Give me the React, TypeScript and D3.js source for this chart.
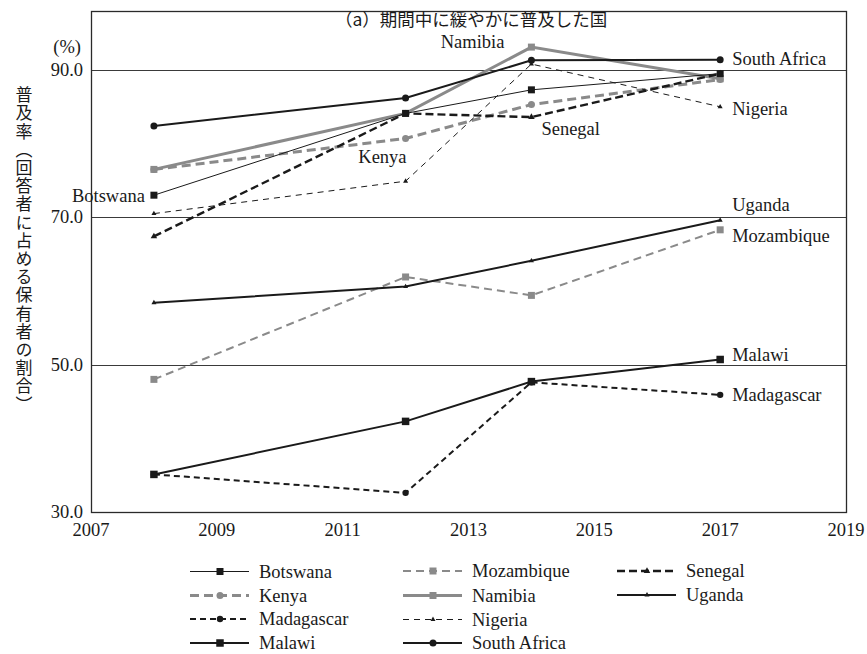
import React from 'react';
import * as d3 from 'd3';

// Survey years and ownership rates (% of respondents)
const years = [2008, 2012, 2014, 2017];
const botswana = [73.0, 84.1, 87.3, 89.5];
const kenya = [76.5, 80.7, 85.3, 88.7];
const madagascar = [35.1, 32.6, 47.6, 45.9];
const malawi = [35.1, 42.3, 47.7, 50.7];
const mozambique = [48.0, 61.9, 59.4, 68.3];
const namibia = [76.5, 84.1, 93.1, 88.8];
const nigeria = [70.5, 74.9, 90.8, 85.0];
const senegal = [67.4, 84.1, 83.6, 89.5];
const southAfrica = [82.4, 86.2, 91.3, 91.4];
const uganda = [58.4, 60.6, 64.1, 69.6];

const xTicks = [2007, 2009, 2011, 2013, 2015, 2017, 2019];
const yTicks = [30, 50, 70, 90];
const gridValues = [50, 70, 90];

const title = '（a）期間中に緩やかに普及した国';
// vertical presentation forms for the brackets in the upright axis title
const yTitle = '普及率︵回答者に占める保有者の割合︶';

const W = 867;
const H = 654;
const M = { left: 91, right: 21, top: 11, bottom: 142 };

const BLACK = '#1a1a1a';
const GREY = '#8a8a8a';
const SERIF = '"Liberation Serif", "Times New Roman", serif';
const CJK = '"Noto Sans CJK JP", sans-serif';
const FS = 18.5;

type Sym = 'square' | 'circle' | 'triangle';
interface Series {
  name: string;
  values: number[];
  color: string;
  width: number;
  dash?: string;
  symbol: Sym;
  size: number;
  // label placement relative to a chosen point
  labelAt: number;
  dx: number;
  dy: number;
  anchor: 'start' | 'middle' | 'end';
}

const series: Series[] = [
  { name: 'Mozambique', values: mozambique, color: GREY, width: 2, dash: '8,5', symbol: 'square', size: 7, labelAt: 3, dx: 12, dy: 12, anchor: 'start' },
  { name: 'Kenya', values: kenya, color: GREY, width: 3, dash: '9,5', symbol: 'circle', size: 3.5, labelAt: 1, dx: 1, dy: 25, anchor: 'end' },
  { name: 'Namibia', values: namibia, color: GREY, width: 3, symbol: 'square', size: 7, labelAt: 2, dx: -27, dy: 1, anchor: 'end' },
  { name: 'Nigeria', values: nigeria, color: BLACK, width: 1, dash: '6,5', symbol: 'triangle', size: 5, labelAt: 3, dx: 12, dy: 8, anchor: 'start' },
  { name: 'Botswana', values: botswana, color: BLACK, width: 1, symbol: 'square', size: 7, labelAt: 0, dx: -9, dy: 7, anchor: 'end' },
  { name: 'Senegal', values: senegal, color: BLACK, width: 2.4, dash: '8,4', symbol: 'triangle', size: 6.5, labelAt: 2, dx: 10, dy: 18, anchor: 'start' },
  { name: 'Uganda', values: uganda, color: BLACK, width: 2, symbol: 'triangle', size: 5, labelAt: 3, dx: 12, dy: -9, anchor: 'start' },
  { name: 'Madagascar', values: madagascar, color: BLACK, width: 2, dash: '6,4', symbol: 'circle', size: 3.2, labelAt: 3, dx: 12, dy: 6, anchor: 'start' },
  { name: 'Malawi', values: malawi, color: BLACK, width: 2, symbol: 'square', size: 7.5, labelAt: 3, dx: 12, dy: 2, anchor: 'start' },
  { name: 'South Africa', values: southAfrica, color: BLACK, width: 2, symbol: 'circle', size: 3.5, labelAt: 3, dx: 12, dy: 5, anchor: 'start' },
];

// legend layout: column-major, four rows per column
const legendOrder = ['Botswana', 'Kenya', 'Madagascar', 'Malawi', 'Mozambique', 'Namibia', 'Nigeria', 'South Africa', 'Senegal', 'Uganda'];

function symbolPath(sym: Sym, size: number): string {
  if (sym === 'square') return d3.symbol(d3.symbolSquare, size * size)() as string;
  if (sym === 'circle') return d3.symbol(d3.symbolCircle, Math.PI * size * size)() as string;
  return d3.symbol(d3.symbolTriangle, (Math.sqrt(3) / 4) * size * size)() as string;
}

export default function App() {
  const x = d3.scaleLinear().domain([2007, 2019]).range([M.left, W - M.right]);
  const y = d3.scaleLinear().domain([30, 98]).range([H - M.bottom, M.top]);
  const line = d3
    .line<number>()
    .x((_, i) => x(years[i]))
    .y((v) => y(v));

  const x0 = x.range()[0];
  const x1 = x.range()[1];
  const yb = y.range()[0];
  const yt = y.range()[1];
  // snap hairlines to the pixel grid
  const crisp = (v: number) => Math.round(v) + 0.5;

  const legendX = d3.scaleOrdinal<number, number>().domain([0, 1, 2]).range([190, 403, 617]);
  const legendY = d3.scaleLinear().domain([0, 1]).range([570.5, 594.8]);

  return (
    <svg
      width={W}
      height={H}
      style={{ position: 'absolute', left: 0, top: 0, background: '#fff' }}
      xmlns="http://www.w3.org/2000/svg"
    >
      <rect x={0} y={0} width={W} height={H} fill="#fff" />

      {/* gridlines */}
      {gridValues.map((v) => (
        <line key={v} x1={x0} x2={x1} y1={crisp(y(v))} y2={crisp(y(v))} stroke="#3a3a3a" strokeWidth={1} />
      ))}

      {/* frame */}
      <rect
        x={crisp(x0)}
        y={crisp(yt)}
        width={crisp(x1) - crisp(x0)}
        height={crisp(yb) - crisp(yt)}
        fill="none"
        stroke="#2a2a2a"
        strokeWidth={1.3}
      />

      {/* y tick labels */}
      {yTicks.map((v) => (
        <text key={v} x={x0 - 8} y={y(v) + 6} textAnchor="end" fontFamily={SERIF} fontSize={FS} fill="#1a1a1a">
          {v.toFixed(1)}
        </text>
      ))}
      <text x={x0 - 10} y={53} textAnchor="end" fontFamily={SERIF} fontSize={FS} fill="#1a1a1a">
        (%)
      </text>

      {/* x tick labels */}
      {xTicks.map((t) => (
        <text key={t} x={x(t)} y={yb + 23.5} textAnchor="middle" fontFamily={SERIF} fontSize={FS} fill="#1a1a1a">
          {t}
        </text>
      ))}

      {/* y axis title */}
      <text
        x={24}
        y={250}
        textAnchor="middle"
        fontFamily={CJK}
        fontSize={17}
        fill="#1a1a1a"
        style={{ writingMode: 'vertical-rl', letterSpacing: '1.2px' } as React.CSSProperties}
      >
        {yTitle}
      </text>

      {/* title */}
      <text x={335} y={26} textAnchor="start" fontFamily={CJK} fontSize={17.5} fill="#1a1a1a">
        {title}
      </text>

      {/* series lines */}
      {series.map((s) => (
        <path
          key={s.name}
          d={line(s.values) as string}
          fill="none"
          stroke={s.color}
          strokeWidth={s.width}
          strokeDasharray={s.dash}
        />
      ))}

      {/* markers */}
      {series.map((s) => (
        <g key={s.name + '-m'} fill={s.color}>
          {s.values.map((v, i) => (
            <path key={i} d={symbolPath(s.symbol, s.size)} transform={`translate(${x(years[i])},${y(v)})`} />
          ))}
        </g>
      ))}

      {/* series labels */}
      {series.map((s) => (
        <text
          key={s.name + '-l'}
          x={x(years[s.labelAt]) + s.dx}
          y={y(s.values[s.labelAt]) + s.dy}
          textAnchor={s.anchor}
          fontFamily={SERIF}
          fontSize={FS}
          fill="#1a1a1a"
        >
          {s.name}
        </text>
      ))}

      {/* legend */}
      {legendOrder.map((name, k) => {
        const s = series.find((d) => d.name === name)!;
        const col = Math.floor(k / 4);
        const row = k % 4;
        const lx = legendX(col);
        const ly = s.width % 2 === 1 ? crisp(legendY(row)) : Math.round(legendY(row));
        return (
          <g key={name + '-lg'}>
            <line x1={lx} x2={lx + 59} y1={ly} y2={ly} stroke={s.color} strokeWidth={s.width} strokeDasharray={s.dash} />
            <path d={symbolPath(s.symbol, s.size)} transform={`translate(${lx + 30},${ly})`} fill={s.color} />
            <text x={lx + 69} y={ly + 6} fontFamily={SERIF} fontSize={FS} fill="#1a1a1a">
              {name}
            </text>
          </g>
        );
      })}
    </svg>
  );
}
